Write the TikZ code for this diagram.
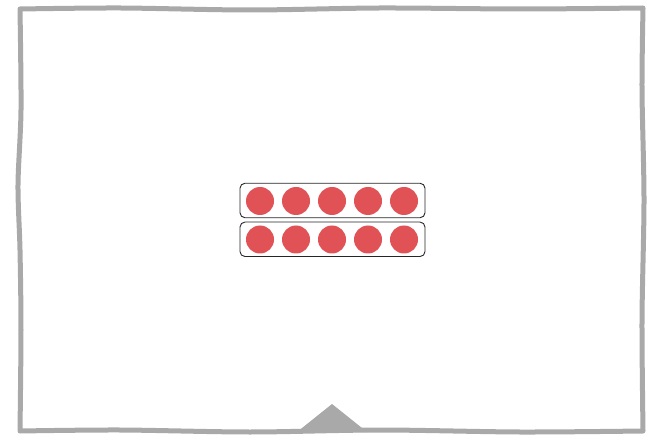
\documentclass[tikz,border=0pt]{standalone}
\usepackage{tikz}
\definecolor{framegray}{HTML}{A9A9A9}
\definecolor{dotred}{HTML}{E05256}
\begin{document}
\begin{tikzpicture}[x=1pt, y=-1pt,
    rowbox/.style={draw=black!85, line width=0.9pt, rounded corners=5pt, minimum width=185pt, minimum height=34.5pt, inner sep=0pt},
    reddot/.style={circle, fill=dotred, minimum size=28pt, inner sep=0pt}]
    \useasboundingbox (0,0) rectangle (658,435);

    % 手绘边框
    \draw[framegray, line width=5pt, line join=round]
        plot[smooth] coordinates {(20,9) (120,8) (250,10) (380,8) (520,9) (643,8)}
        -- plot[smooth] coordinates {(643,8) (642,90) (644,200) (642,320) (643,431)}
        -- plot[smooth] coordinates {(643,431) (520,432) (380,430) (250,432) (120,430) (20,431)}
        -- plot[smooth] coordinates {(20,431) (21,330) (20,250) (18,185) (21,110) (20,9)}
        -- cycle;

    % 两排圆点
    \node[rowbox] (row1) at (332.5,200.5) {};
    \node[rowbox] (row2) at (332.5,239.3) {};
    \foreach \i in {1,...,5} {
        \node[reddot] (top\i) at (224+36*\i,201) {};
        \node[reddot] (bot\i) at (224+36*\i,239.5) {};
    }

    % 底部三角
    \fill[framegray] (297,432) -- (332,404) -- (367,432) -- cycle;
\end{tikzpicture}
\end{document}
